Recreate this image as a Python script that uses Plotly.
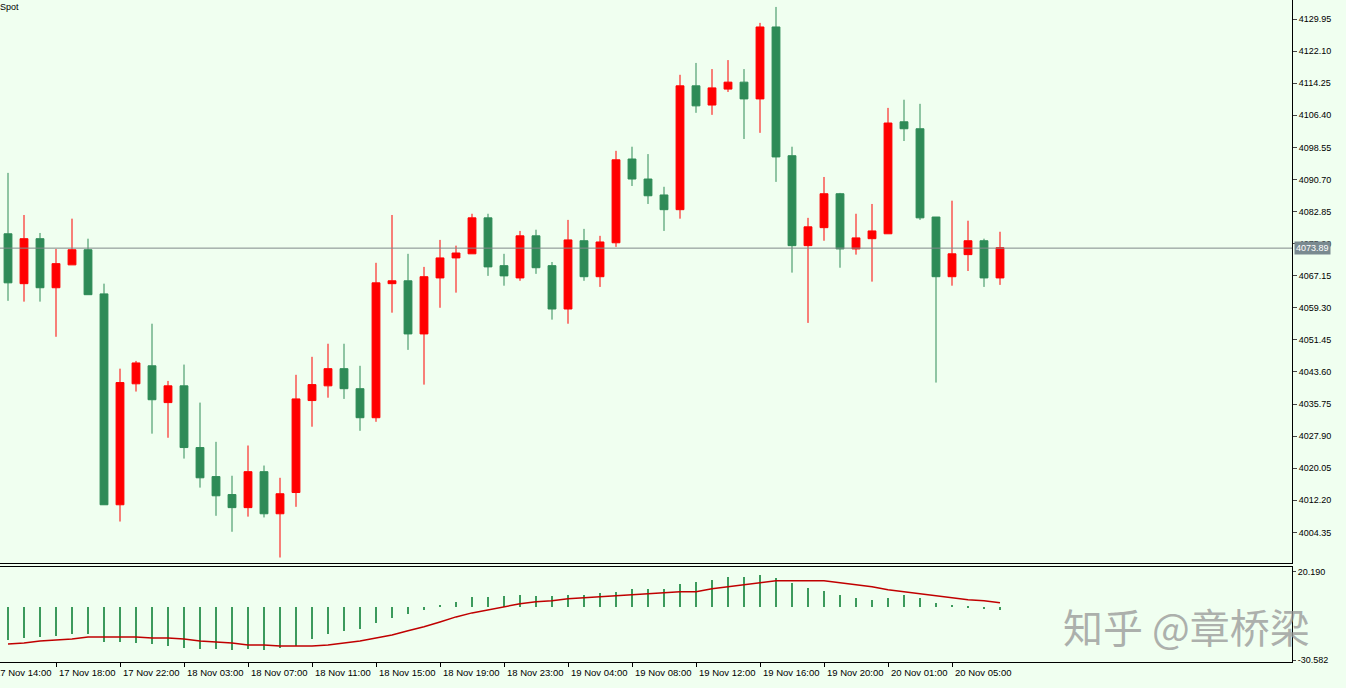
import plotly.graph_objects as go
from plotly.subplots import make_subplots

# OHLC of each candle
opens = [4077.4, 4065.2, 4076.2, 4064.2, 4069.8, 4073.5, 4062.7, 4011.1, 4040.7, 4045.1,
         4036.1, 4040.2, 4025.1, 4018.0, 4013.6, 4010.4, 4019.2, 4008.9, 4014.1, 4036.6,
         4040.2, 4044.4, 4039.5, 4032.4, 4065.2, 4065.9, 4052.9, 4066.6, 4071.5, 4072.5,
         4081.3, 4069.6, 4066.6, 4076.9, 4069.6, 4059.0, 4075.7, 4066.9, 4075.2, 4095.7,
         4090.8, 4086.9, 4083.3, 4113.6, 4108.9, 4112.8, 4114.5, 4110.4, 4128.0, 4096.5,
         4074.5, 4078.9, 4087.2, 4073.7, 4076.2, 4077.4, 4104.8, 4103.1, 4081.5, 4066.9,
         4072.3, 4075.7, 4066.6]
highs = [4092.3, 4082.0, 4077.6, 4073.7, 4081.1, 4076.2, 4065.2, 4044.4, 4046.3, 4055.4,
         4041.4, 4045.4, 4036.1, 4026.5, 4018.2, 4025.6, 4020.7, 4017.7, 4042.9, 4047.3,
         4050.5, 4050.5, 4045.1, 4070.3, 4082.0, 4072.5, 4069.3, 4075.9, 4074.5, 4082.3,
         4082.3, 4072.5, 4078.1, 4078.4, 4070.5, 4080.8, 4078.6, 4076.9, 4097.7, 4098.7,
         4096.9, 4088.9, 4116.3, 4119.2, 4117.7, 4119.9, 4117.7, 4129.0, 4132.9, 4098.7,
         4081.3, 4091.3, 4087.4, 4082.3, 4084.7, 4108.2, 4110.2, 4109.2, 4081.5, 4085.5,
         4080.6, 4076.2, 4077.9]
lows = [4061.0, 4060.8, 4060.8, 4052.2, 4069.8, 4062.5, 4011.1, 4007.0, 4038.8, 4028.5,
        4027.5, 4022.4, 4015.3, 4008.4, 4004.5, 4008.2, 4008.0, 3998.2, 4010.6, 4030.2,
        4037.3, 4037.0, 4029.2, 4031.4, 4058.1, 4049.0, 4040.5, 4059.3, 4063.0, 4072.5,
        4067.1, 4064.7, 4065.9, 4067.6, 4056.4, 4055.4, 4065.9, 4064.4, 4074.2, 4089.1,
        4084.7, 4078.1, 4081.1, 4107.0, 4106.5, 4112.1, 4100.6, 4102.1, 4090.1, 4067.9,
        4055.6, 4075.7, 4069.1, 4072.3, 4065.7, 4077.4, 4100.1, 4080.8, 4041.0, 4064.7,
        4068.3, 4064.4, 4064.9]
closes = [4065.4, 4076.2, 4064.2, 4070.1, 4073.5, 4062.5, 4011.1, 4041.0, 4045.8, 4036.8,
          4040.2, 4025.1, 4017.7, 4013.3, 4010.4, 4019.2, 4008.9, 4013.8, 4037.0, 4040.5,
          4044.4, 4039.5, 4032.4, 4065.4, 4065.9, 4052.9, 4066.9, 4071.5, 4072.7, 4081.3,
          4069.3, 4067.1, 4076.9, 4069.1, 4059.0, 4075.9, 4066.9, 4075.4, 4095.5, 4090.8,
          4086.7, 4083.3, 4113.6, 4108.7, 4113.1, 4114.5, 4110.4, 4128.0, 4096.2, 4074.5,
          4079.1, 4087.2, 4073.7, 4076.4, 4078.1, 4104.5, 4103.1, 4081.3, 4066.9, 4072.5,
          4075.7, 4066.6, 4074.0]

# MACD histogram and signal line
macd_hist = [-19.0, -17.5, -17.1, -16.7, -15.6, -15.2, -20.2, -20.2, -20.6, -21.0,
             -22.5, -23.3, -24.0, -24.0, -24.4, -24.0, -24.4, -23.3, -22.5, -18.3,
             -15.6, -13.7, -12.5, -9.0, -6.0, -4.0, -1.7, 1.2, 3.1, 5.6,
             6.0, 6.5, 7.1, 6.7, 6.3, 7.1, 6.9, 7.9, 9.0, 10.2,
             10.6, 10.6, 13.3, 14.4, 15.6, 17.3, 17.3, 18.5, 16.7, 13.8,
             11.0, 9.2, 6.9, 5.2, 4.0, 5.2, 6.9, 5.2, 2.3, 1.2,
             0.3, -0.8, -1.5]
macd_signal = [-21.3, -20.8, -19.6, -19.0, -18.5, -17.3, -17.3, -17.3, -17.3, -17.9,
               -17.9, -18.5, -19.6, -20.2, -20.8, -21.9, -21.9, -22.5, -22.5, -22.5,
               -21.9, -20.8, -19.6, -17.9, -16.2, -13.8, -11.5, -8.7, -5.8, -3.5,
               -1.7, 0.0, 1.7, 2.9, 3.5, 4.6, 5.2, 5.8, 6.3, 6.9,
               7.5, 8.1, 8.7, 8.7, 10.4, 11.5, 12.7, 13.8, 15.0, 15.0,
               15.0, 15.0, 13.8, 12.7, 11.5, 9.8, 8.7, 7.5, 6.3, 5.2,
               4.0, 3.5, 2.3]

time_labels = ["17 Nov 14:00", "17 Nov 18:00", "17 Nov 22:00", "18 Nov 03:00", "18 Nov 07:00",
               "18 Nov 11:00", "18 Nov 15:00", "18 Nov 19:00", "18 Nov 23:00", "19 Nov 04:00",
               "19 Nov 08:00", "19 Nov 12:00", "19 Nov 16:00", "19 Nov 20:00", "20 Nov 01:00",
               "20 Nov 05:00"]
time_idx = [-1 + 4 * k for k in range(len(time_labels))]

price_ticks = [4129.95, 4122.10, 4114.25, 4106.40, 4098.55, 4090.70, 4082.85, 4075.00,
               4067.15, 4059.30, 4051.45, 4043.60, 4035.75, 4027.90, 4020.05, 4012.20, 4004.35]
last_price = 4073.89
macd_ticks = [20.190, -30.582]

x = list(range(len(opens)))
BG = "#f0fff0"
GREEN = "#2e8b57"
FONT = "Liberation Sans"
X0, X1 = -0.5, 80.25

fig = make_subplots(rows=2, cols=1, shared_xaxes=True, vertical_spacing=0.006,
                    row_heights=[0.855, 0.145])

fig.add_trace(go.Candlestick(
    x=x, open=opens, high=highs, low=lows, close=closes,
    increasing=dict(line=dict(color="#ff0000", width=1), fillcolor="#ff0000"),
    decreasing=dict(line=dict(color=GREEN, width=1), fillcolor=GREEN),
    whiskerwidth=0, showlegend=False), row=1, col=1)

fig.add_hline(y=last_price, line=dict(color="#808a8a", width=1), row=1, col=1)

fig.add_trace(go.Bar(x=x, y=macd_hist, width=0.07, marker=dict(color="#3c9a5c", line_width=0),
                     showlegend=False), row=2, col=1)
fig.add_trace(go.Scatter(x=x, y=macd_signal, mode="lines", line=dict(color="#c00000", width=1.5),
                         showlegend=False), row=2, col=1)

axis_common = dict(showgrid=False, zeroline=False, showline=True, linecolor="black", mirror=True,
                   tickfont=dict(family=FONT, size=9, color="black"))
fig.update_xaxes(range=[X0, X1], showticklabels=False, rangeslider_visible=False,
                 **axis_common)
fig.update_xaxes(ticks="outside", tickvals=time_idx, ticklen=4, tickcolor="black", row=2, col=1)
fig.update_yaxes(side="right", range=[3996.95, 4134.6], tickvals=price_ticks,
                 ticktext=["%.2f" % v for v in price_ticks], ticks="outside", ticklen=4,
                 row=1, col=1, **axis_common)
fig.update_yaxes(side="right", range=[-31.7, 23.1], tickvals=macd_ticks,
                 ticktext=["20.190", "-30.582"], ticks="outside", ticklen=3,
                 row=2, col=1, **axis_common)

annotations = []
for i, lab in zip(time_idx, time_labels):
    annotations.append(dict(x=(i - X0) / (X1 - X0), y=-0.005, xref="paper", yref="paper",
                            text=lab, showarrow=False, xanchor="left", yanchor="top", xshift=1,
                            font=dict(family=FONT, size=9.5, color="black")))
annotations.append(dict(x=1.0, y=last_price, xref="paper", yref="y", text="4073.89",
                        showarrow=False, xanchor="left", xshift=2, bgcolor="#7a8a90",
                        font=dict(family=FONT, size=9, color="white"), borderpad=1))
annotations.append(dict(x=0, y=1, xref="paper", yref="paper", text="Spot", showarrow=False,
                        xanchor="left", yanchor="top", xshift=-2,
                        font=dict(family=FONT, size=9, color="black")))
annotations.append(dict(x=1.0, y=0.008, xref="paper", yref="paper", text="知乎 @章桥梁",
                        showarrow=False, xanchor="right", yanchor="bottom", xshift=20,
                        font=dict(family="Noto Sans CJK SC", size=40, color="rgba(150,150,150,0.75)")))

fig.update_layout(width=1346, height=688, paper_bgcolor=BG, plot_bgcolor=BG,
                  margin=dict(l=0, r=54, t=0, b=26, autoexpand=False), annotations=annotations,
                  bargap=0, showlegend=False)

# page has a default 8px body margin; remove it so the figure fills the window
fig.write_html("out.html", config={"displayModeBar": False},
               post_script="document.body.style.margin='0';")
